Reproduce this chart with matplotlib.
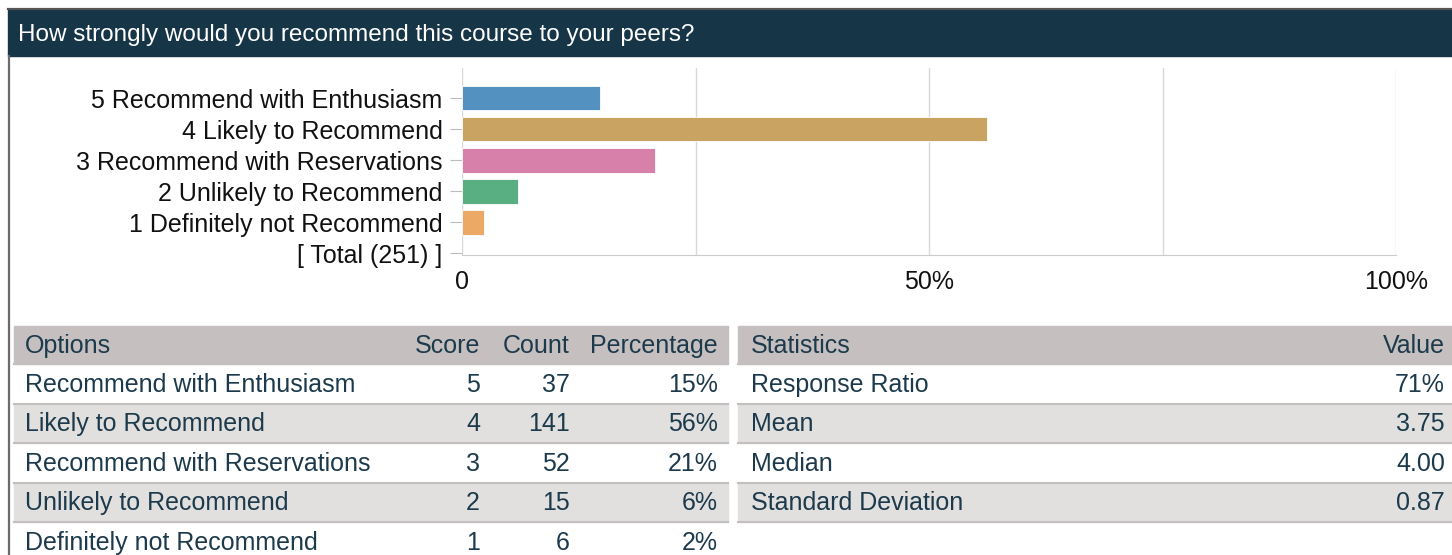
import matplotlib.pyplot as plt
from matplotlib.patches import Rectangle

# === DATA ===
TITLE = "How strongly would you recommend this course to your peers?"
options = ["Recommend with Enthusiasm", "Likely to Recommend", "Recommend with Reservations",
           "Unlikely to Recommend", "Definitely not Recommend"]
scores = [5, 4, 3, 2, 1]
counts = [37, 141, 52, 15, 6]
total = 251
bar_colors = ['#5291c0', '#c8a362', '#d680aa', '#5aaf82', '#eca865']
stat_names = ["Response Ratio", "Mean", "Median", "Standard Deviation"]
stat_values = ["71%", "3.75", "4.00", "0.87"]
pcts = [c / total * 100 for c in counts]

# === STYLE ===
W, H = 1452, 555
TITLE_BG = '#163547'
HEAD_BG = '#c5bfbf'
ALT_BG = '#e1e0df'
SEP = '#c3bfbf'
TXT = '#1c3a4c'
FONT = 'Liberation Sans'

fig = plt.figure(figsize=(W / 100, H / 100), dpi=100)

# background canvas in pixel coordinates
bg = fig.add_axes([0, 0, 1, 1])
bg.set_xlim(0, W)
bg.set_ylim(H, 0)
bg.axis('off')

bg.plot([8, W], [9, 9], color='#555555', lw=1.6)
bg.add_patch(Rectangle((8, 10), W - 8, 46, color=TITLE_BG))
bg.plot([9, 9], [56, H], color='#6b6b6b', lw=1.6)
bg.text(18, 35, TITLE, color='white', fontsize=17.5, family=FONT, va='center')

# === TABLES ===
HEAD_TOP, HEAD_BOT = 326, 364
ROW_H = 39.5
TFS = 18


def draw_table(x0, x1, header, rows, cols):
    # header
    bg.add_patch(Rectangle((x0, HEAD_TOP), x1 - x0, HEAD_BOT - HEAD_TOP, color=HEAD_BG))
    yc = (HEAD_TOP + HEAD_BOT) / 2 + 1
    for (cx, ha), txt in zip(cols, header):
        bg.text(cx, yc, txt, color=TXT, fontsize=TFS, family=FONT, ha=ha, va='center')
    for i, row in enumerate(rows):
        top = HEAD_BOT + i * ROW_H
        if i % 2 == 1:
            bg.add_patch(Rectangle((x0, top), x1 - x0, ROW_H, color=ALT_BG))
        bg.plot([x0, x1], [top, top], color=SEP, lw=1.5)
        for (cx, ha), txt in zip(cols, row):
            bg.text(cx, top + ROW_H / 2 + 1, txt, color=TXT, fontsize=TFS, family=FONT,
                    ha=ha, va='center')
    bottom = HEAD_BOT + len(rows) * ROW_H
    bg.plot([x0, x1], [bottom, bottom], color=SEP, lw=1.5)


left_rows = [[o, str(s), str(c), f"{round(p)}%"] for o, s, c, p in zip(options, scores, counts, pcts)]
draw_table(14, 728, ["Options", "Score", "Count", "Percentage"], left_rows,
           [(25, 'left'), (480, 'right'), (570, 'right'), (718, 'right')])

right_rows = [[n, v] for n, v in zip(stat_names, stat_values)]
draw_table(738, W, ["Statistics", "Value"], right_rows, [(751, 'left'), (1445, 'right')])

# === BAR CHART ===
L, R, T, B = 462, 1396, 68, 255
ax = fig.add_axes([L / W, (H - B) / H, (R - L) / W, (B - T) / H])
ax.barh(scores, pcts, height=0.8, color=bar_colors, edgecolor='white', linewidth=0.6, zorder=3)

ax.set_xlim(0, 100)
ax.set_ylim(-0.06, 5.97)
ax.set_xticks([0, 50, 100])
ax.set_xticklabels(["0", "50%", "100%"])
ax.set_xticks([25, 75], minor=True)
ax.grid(axis='x', which='both', color='#d8d8d8', lw=1, zorder=0)

ytick_pos = scores + [0]
ytick_lab = [f"{s} {o}" for s, o in zip(scores, options)] + [f"[ Total ({total}) ]"]
ax.set_yticks(ytick_pos)
ax.set_yticklabels(ytick_lab)

for lab in ax.get_xticklabels() + ax.get_yticklabels():
    lab.set_fontfamily(FONT)
    lab.set_fontsize(18)
    lab.set_color('#111111')

ax.tick_params(axis='y', length=9, color='#bbbbbb', pad=5)
ax.tick_params(axis='x', which='both', length=0, pad=11)
for side in ['top', 'right', 'left']:
    ax.spines[side].set_visible(False)
ax.spines['bottom'].set_color('#cccccc')

fig.savefig('out.png', dpi=100)
